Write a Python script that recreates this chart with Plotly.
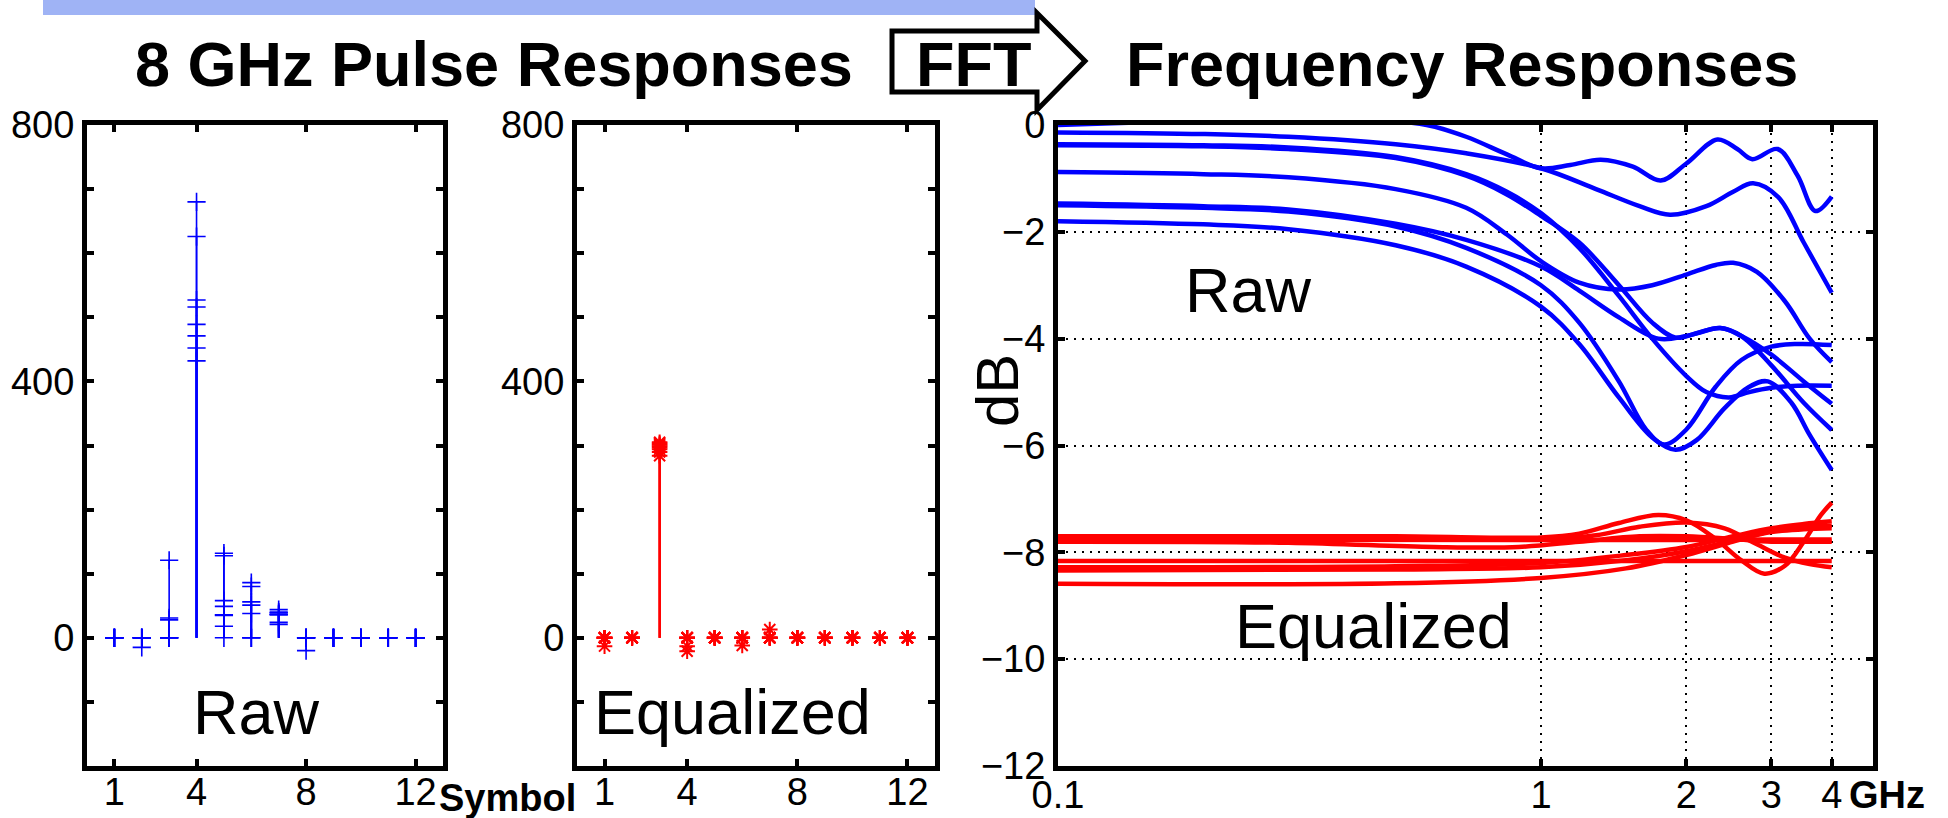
import plotly.graph_objects as go

W, H = 1948, 818

# ---------------- data ----------------
symbols = list(range(1, 13))

# raw pulse responses (8 channels x 12 symbols)
raw_pulses = [
    [0, 0, 0, 432, 0, 0, 21, 0, 0, 0, 0, 0],
    [0, 0, 0, 452, 18, 0, 24, 0, 0, 0, 0, 0],
    [0, 0, 0, 471, 35, 0, 36, 0, 0, 0, 0, 0],
    [0, 0, 0, 489, 36, 38, 37, 0, 0, 0, 0, 0],
    [0, 0, 0, 516, 49, 51, 39, 0, 0, 0, 0, 0],
    [0, 0, 28, 527, 58, 56, 40, 0, 0, 0, 0, 0],
    [0, 0, 31, 626, 128, 80, 44, 0, 0, 0, 0, 0],
    [0, -15, 121, 680, 132, 86, 36, -20, 0, 0, 0, 0],
]

# equalized pulse responses (8 channels x 12 symbols)
eq_pulses = [
    [0, 0, 284, 0, 0, 0, 0, 0, 0, 0, 0, 0],
    [0, 0, 290, 0, 0, 0, 0, 0, 0, 0, 0, 0],
    [0, 0, 294, 0, 0, 0, 0, 0, 0, 0, 0, 0],
    [0, 0, 297, 0, 0, 0, 0, 0, 0, 0, 0, 0],
    [0, 0, 299, 0, 0, 0, 0, 0, 0, 0, 0, 0],
    [0, 0, 301, 0, 0, 0, 0, 0, 0, 0, 0, 0],
    [0, 0, 303, -13, 0, 0, 0, 0, 0, 0, 0, 0],
    [-13, 0, 305, -21, 0, -12, 13, 0, 0, 0, 0, 0],
]

# raw frequency responses (GHz, dB)
raw_freq = [
    [0.1, 0.14, 0.2, 0.3, 0.45, 0.58, 0.7, 0.85, 1.0, 1.15, 1.33, 1.55, 1.77, 2.0, 2.32, 2.55, 2.74, 3.09, 3.4, 3.7, 4.0],
    [0.1, 0.2, 0.3, 0.5, 0.7, 1.0, 1.3, 1.6, 1.85, 2.2, 2.5, 2.75, 3.1, 3.5, 4.0],
    [0.1, 0.2, 0.3, 0.5, 0.7, 0.85, 1.0, 1.2, 1.45, 1.7, 2.0, 2.2, 2.45, 2.7, 3.0, 3.4, 4.0],
    [0.1, 0.2, 0.3, 0.5, 0.7, 0.85, 1.0, 1.2, 1.45, 1.7, 1.9, 2.1, 2.35, 2.6, 3.0, 3.5, 4.0],
    [0.1, 0.2, 0.3, 0.5, 0.7, 0.85, 1.0, 1.2, 1.45, 1.7, 2.0, 2.3, 2.5, 2.8, 3.2, 3.6, 4.0],
    [0.1, 0.2, 0.3, 0.5, 0.7, 1.0, 1.2, 1.45, 1.75, 2.0, 2.35, 2.6, 3.0, 3.5, 4.0],
    [0.1, 0.2, 0.3, 0.5, 0.7, 1.0, 1.2, 1.45, 1.65, 1.8, 2.0, 2.3, 2.6, 3.0, 3.4, 4.0],
    [0.1, 0.2, 0.3, 0.5, 0.7, 1.0, 1.2, 1.45, 1.7, 1.9, 2.1, 2.4, 2.7, 2.95, 3.3, 3.6, 4.0],
]
raw_db = [
    [0.0, 0.04, 0.1, 0.14, 0.1, 0.0, -0.22, -0.55, -0.81, -0.75, -0.65, -0.78, -1.04, -0.72, -0.27, -0.45, -0.64, -0.45, -0.95, -1.61, -1.34],
    [-0.14, -0.17, -0.22, -0.36, -0.53, -0.81, -1.2, -1.52, -1.68, -1.52, -1.25, -1.09, -1.35, -2.2, -3.14],
    [-0.36, -0.38, -0.42, -0.6, -0.92, -1.25, -1.65, -2.3, -3.2, -4.0, -4.7, -5.0, -5.1, -5.0, -4.92, -4.88, -4.88],
    [-0.38, -0.4, -0.45, -0.62, -0.95, -1.3, -1.7, -2.2, -3.0, -3.7, -3.98, -3.9, -3.8, -3.95, -4.5, -5.2, -5.71],
    [-0.88, -0.92, -0.98, -1.2, -1.55, -2.05, -2.55, -2.95, -3.08, -3.0, -2.8, -2.62, -2.58, -2.75, -3.3, -4.0, -4.44],
    [-1.47, -1.52, -1.58, -1.85, -2.15, -2.65, -3.1, -3.6, -4.0, -3.95, -3.8, -3.95, -4.3, -4.8, -5.22],
    [-1.50, -1.55, -1.62, -1.9, -2.3, -3.0, -3.7, -4.8, -5.7, -5.98, -5.7, -4.9, -4.4, -4.15, -4.1, -4.12],
    [-1.80, -1.86, -1.95, -2.25, -2.65, -3.4, -4.1, -5.1, -5.85, -6.08, -5.9, -5.3, -4.9, -4.8, -5.2, -5.8, -6.46],
]

# equalized frequency responses (GHz, dB)
eq_freq = [
    [0.1, 0.5, 1.0, 1.2, 1.45, 1.75, 2.0, 2.3, 2.6, 2.9, 3.2, 3.5, 3.8, 4.0],
    [0.1, 0.5, 1.0, 1.3, 1.6, 2.0, 2.4, 2.8, 3.2, 3.6, 4.0],
    [0.1, 1.0, 2.0, 3.0, 4.0],
    [0.1, 0.3, 0.6, 0.9, 1.2, 1.6, 2.0, 2.5, 3.0, 3.5, 4.0],
    [0.1, 1.0, 2.0, 3.0, 4.0],
    [0.1, 0.5, 1.0, 1.5, 2.0, 2.5, 3.0, 3.5, 4.0],
    [0.1, 0.5, 1.0, 1.5, 2.0, 2.5, 3.0, 3.5, 4.0],
    [0.1, 0.5, 1.0, 1.5, 2.0, 2.5, 3.0, 3.5, 4.0],
]
eq_db = [
    [-7.7, -7.7, -7.72, -7.65, -7.45, -7.3, -7.4, -7.75, -8.15, -8.4, -8.25, -7.8, -7.3, -7.07],
    [-7.74, -7.74, -7.76, -7.68, -7.52, -7.44, -7.55, -7.85, -8.1, -8.22, -8.28],
    [-7.76, -7.77, -7.77, -7.76, -7.76],
    [-7.8, -7.82, -7.9, -7.9, -7.8, -7.7, -7.7, -7.75, -7.8, -7.8, -7.8],
    [-8.16, -8.16, -8.16, -8.16, -8.16],
    [-8.28, -8.26, -8.2, -8.05, -7.9, -7.7, -7.55, -7.47, -7.42],
    [-8.34, -8.32, -8.28, -8.15, -7.98, -7.78, -7.62, -7.57, -7.55],
    [-8.59, -8.58, -8.48, -8.3, -8.05, -7.8, -7.6, -7.52, -7.5],
]

pulse_yticks = [-200, -100, 0, 100, 200, 300, 400, 500, 600, 700, 800]
pulse_ytext = ["", "", "0", "", "", "", "400", "", "", "", "800"]
symbol_ticks = [1, 4, 8, 12]
freq_ticks = [0.1, 1, 2, 3, 4]
freq_ticktext = ["0.1", "1", "2", "3", "4"]
db_ticks = [0, -2, -4, -6, -8, -10, -12]

# ---------------- helpers ----------------
def px(x):
    return x / W


def py(y):
    return 1 - y / H


FONT = "Liberation Sans, Arial, Helvetica, sans-serif"
BLUE = "#0000ff"
RED = "#ff0000"

fig = go.Figure()


def add_stems(pulses, color, symbol, size, lw, xa, ya):
    for ch in pulses:
        xs, ys = [], []
        for s, v in zip(symbols, ch):
            xs += [s, s, None]
            ys += [0, v, None]
        fig.add_trace(go.Scatter(x=xs, y=ys, mode="lines", xaxis=xa, yaxis=ya,
                                 line=dict(color=color, width=1.6), showlegend=False,
                                 hoverinfo="skip"))
        fig.add_trace(go.Scatter(x=symbols, y=ch, mode="markers", xaxis=xa, yaxis=ya,
                                 marker=dict(symbol=symbol, size=size, color=color,
                                             line=dict(color=color, width=lw)),
                                 showlegend=False, cliponaxis=False))


add_stems(raw_pulses, BLUE, "cross-thin", 13, 1.6, "x", "y")
add_stems(eq_pulses, RED, "asterisk", 13, 2.0, "x2", "y2")

for f, d in zip(raw_freq, raw_db):
    fig.add_trace(go.Scatter(x=f, y=d, mode="lines", xaxis="x3", yaxis="y3",
                             line=dict(color=BLUE, width=4.5, shape="spline", smoothing=1.0),
                             showlegend=False))
for f, d in zip(eq_freq, eq_db):
    fig.add_trace(go.Scatter(x=f, y=d, mode="lines", xaxis="x3", yaxis="y3",
                             line=dict(color=RED, width=4.5, shape="spline", smoothing=1.0),
                             showlegend=False))

YDOM = [py(766), py(125)]

base_axis = dict(showline=True, linewidth=5, linecolor="black", mirror="allticks",
                 ticks="inside", ticklen=7, tickwidth=4, tickcolor="black",
                 showgrid=False, zeroline=False, automargin=False,
                 tickfont=dict(family=FONT, size=38, color="black"))

fig.update_layout(
    template="none",
    width=W, height=H, autosize=False,
    margin=dict(l=0, r=0, t=0, b=0, pad=0),
    paper_bgcolor="white", plot_bgcolor="white",
    xaxis=dict(base_axis, ticklabelstandoff=-12, domain=[px(87), px(443)], range=[0, 13],
               anchor="y", tickvals=symbol_ticks),
    yaxis=dict(base_axis, domain=YDOM, range=[-200, 800], anchor="x",
               tickvals=pulse_yticks, ticktext=pulse_ytext),
    xaxis2=dict(base_axis, ticklabelstandoff=-12, domain=[px(577), px(935)], range=[0, 13],
                anchor="y2", tickvals=symbol_ticks),
    yaxis2=dict(base_axis, domain=YDOM, range=[-200, 800], anchor="x2",
                tickvals=pulse_yticks, ticktext=pulse_ytext),
    xaxis3=dict(base_axis, ticklabelstandoff=-9, domain=[px(1058), px(1873)], type="log",
                range=[-1, 0.6875], anchor="y3",
                tickvals=freq_ticks, ticktext=freq_ticktext,
                showgrid=True, gridcolor="black", gridwidth=2, griddash="2px,6px"),
    yaxis3=dict(base_axis, domain=YDOM, range=[-12, 0], anchor="x3",
                tickvals=db_ticks,
                showgrid=True, gridcolor="black", gridwidth=2, griddash="2px,6px"),
)

# ---------------- decorations ----------------
shapes = []
# hatched bar at the top
shapes.append(dict(type="rect", xref="paper", yref="paper",
                   x0=px(43), x1=px(1035), y0=py(15), y1=py(0),
                   fillcolor="#9fb3f5", line=dict(width=0), layer="below"))
# FFT arrow outline
pts = [(892, 31), (1037, 31), (1037, 13), (1085, 61), (1037, 110), (1037, 92), (892, 92)]
path = "M " + " L ".join(f"{px(x):.5f},{py(y):.5f}" for x, y in pts) + " Z"
shapes.append(dict(type="path", xref="paper", yref="paper", path=path,
                   line=dict(color="black", width=5), fillcolor="rgba(0,0,0,0)"))
fig.update_layout(shapes=shapes)

ann = []


def text(x, y, s, size, bold=False, xanchor="center", angle=0):
    ann.append(dict(x=px(x), y=py(y), xref="paper", yref="paper",
                    text=f"<b>{s}</b>" if bold else s, showarrow=False,
                    xanchor=xanchor, yanchor="middle", textangle=angle,
                    font=dict(family=FONT, size=size, color="black")))


text(494, 64, "8 GHz Pulse Responses", 63, bold=True)
text(973, 64, "FFT", 63, bold=True)
text(1462, 64, "Frequency Responses", 63, bold=True)
text(256, 712, "Raw", 63)
text(732, 712, "Equalized", 63)
text(1248, 290, "Raw", 63)
text(1373, 626, "Equalized", 63)
text(997, 391, "dB", 60, angle=-90)
text(508, 798, "Symbol", 38, bold=True)
text(1887, 795, "GHz", 38, bold=True)
fig.update_layout(annotations=ann)

fig.write_html("out.html")
